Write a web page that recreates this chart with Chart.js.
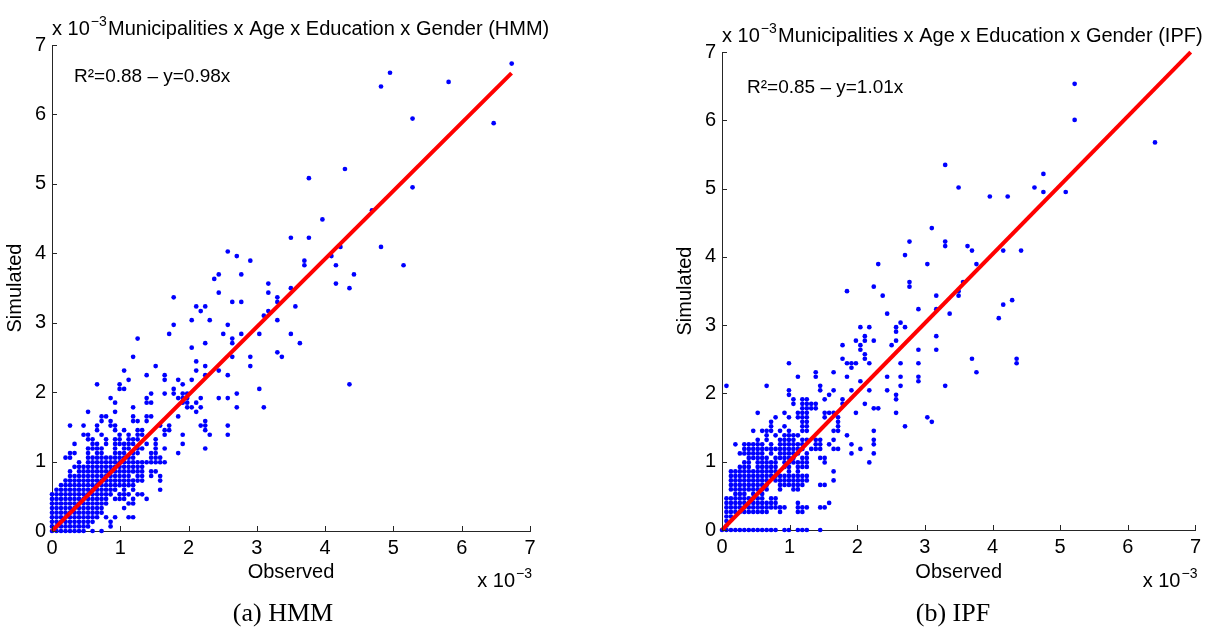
<!DOCTYPE html>
<html>
<head>
<meta charset="utf-8">
<title>Municipalities x Age x Education x Gender</title>
<script src="https://cdn.jsdelivr.net/npm/chart.js@4/dist/chart.umd.min.js"></script>
<style>
  html, body { margin: 0; padding: 0; background: #fff; }
  #page { position: relative; width: 1206px; height: 635px; overflow: hidden; }
  canvas { position: absolute; top: 0; }
  #hmm-chart { left: 0; }
  #ipf-chart { left: 603px; }
  .caption {
    position: absolute; top: 598px; line-height: 26px;
    font: 26px "Liberation Serif", "Times New Roman", serif; color: #000;
    transform: translateX(-50%); white-space: nowrap;
  }
</style>
</head>
<body>
<div id="page">
  <canvas id="hmm-chart" width="603" height="635"></canvas>
  <canvas id="ipf-chart" width="603" height="635"></canvas>
  <div class="caption" style="left:283px">(a) HMM</div>
  <div class="caption" style="left:953px">(b) IPF</div>
</div>
<script>
// both shares are counted in steps of 0.066 (x 10^-3)
const STEP = 0.066;

// [simulated step, [observed steps]] for every cell of the table
const hmmRows = [
  [0, [0,1,2,3,4,5,6,7,9,11]],
  [1, [0,1,2,3,4,5,6,7,8,13]],
  [2, [0,1,2,3,4,5,6,7,8,9,13]],
  [3, [0,1,2,3,4,5,6,7,8,9,10,12,14,17,18]],
  [4, [0,1,2,3,4,5,6,7,8,9,10,11]],
  [5, [0,1,2,3,4,5,6,7,8,9,10,11,16]],
  [6, [0,1,2,3,4,5,6,7,8,9,10,11,12,17,18]],
  [7, [0,1,2,3,4,5,6,7,8,9,10,11,12,14,15,16,18,21]],
  [8, [0,1,2,3,4,5,6,7,8,9,10,11,12,13,15,16,17,19,20]],
  [9, [1,2,3,4,5,6,7,8,9,10,11,12,13,14,16,18,24]],
  [10, [2,3,4,5,6,7,8,9,10,11,12,13,14,15,16,17,18]],
  [11, [3,4,5,6,7,8,9,10,11,12,13,14,15,16,17,18,19,20,24]],
  [12, [4,5,6,7,8,9,10,11,12,13,14,15,16,17,19,20,22,24]],
  [13, [4,6,7,8,9,10,11,12,13,14,15,16,17,18,19,20,22,23]],
  [14, [5,6,7,8,9,10,11,12,13,14,15,16,17,18,19,20]],
  [15, [6,8,9,10,11,12,13,14,15,16,17,18,19,20,21,22,23,24,25]],
  [16, [3,4,8,9,10,11,12,13,14,15,16,17,18,22,23,24]],
  [17, [4,5,8,10,11,14,15,16,18,19,22,23,28]],
  [18, [8,9,10,11,14,16,17,19,20,23,25,34]],
  [19, [5,9,10,12,14,15,16,17,18,21,23,29]],
  [20, [8,9,12,14,15,17,18,19,23]],
  [21, [7,8,11,15,17,19,20,25,29,35,39]],
  [22, [10,14,16,19,20,25,26,34]],
  [23, [4,7,10,13,14,24,26,33,34,39]],
  [24, [11,13,18,19,21,34]],
  [25, [11,12,18,21,22,28]],
  [26, [8,14,32]],
  [27, [18,30,31,33,41,47]],
  [28, [14,21,22,29,30,32]],
  [29, [13,21,28,29,30,33,37,39]],
  [30, [22,25,27,29,30,41]],
  [31, [15,16,27,46]],
  [32, [10,15,29,66]],
  [33, [17,25,28,31]],
  [34, [21,25,34,39]],
  [35, [16,32,37]],
  [36, [23,34,44]],
  [37, [32]],
  [38, [18,40,44,51]],
  [39, [50]],
  [40, [31]],
  [41, [34,40,55]],
  [42, [19,40]],
  [43, [26,38,42,46,53]],
  [45, [27,39]],
  [46, [31,35,50]],
  [47, [47]],
  [48, [33,48]],
  [49, [32,34,54]],
  [50, [40,42,50]],
  [51, [27,50]],
  [52, [37,48]],
  [53, [53,66]],
  [54, [48,63]],
  [55, [36]],
  [56, [37,42,67]],
  [58, [56,63,78]],
  [59, [44,56]],
  [60, [41,62]],
  [61, [39]],
  [62, [64,73]],
  [64, [53,57]],
  [68, [60]],
  [70, [71]],
  [75, [80]],
  [77, [57]],
  [79, [65]],
  [89, [98]],
  [90, [80]],
  [97, [73]],
  [98, [88]],
  [100, [75]],
  [102, [102]]
];

const ipfRows = [
  [0, [0,1,2,3,4,5,6,7,8,9,10,11,12,14,15,17,18,19,22]],
  [1, [1]],
  [2, [1]],
  [3, [1,2]],
  [4, [1,2,3,4,5,6,7,8,9,10,13,17,18]],
  [5, [1,2,3,4,5,6,7,8,9,10,11,12,13,14,17,18,19,22,23]],
  [6, [1,2,3,4,5,6,7,8,9,10,11,12,17,24]],
  [7, [1,2,3,4,5,6,7,8,9,11,12]],
  [8, [3,4,5,7,9]],
  [9, [2,3,4,5,6,7,8,9,10,13,16,17]],
  [10, [2,3,4,5,6,7,8,9,10,13,14,15,16,17,18,22,23]],
  [11, [2,3,4,5,6,7,8,9,10,12,13,14,15,16,17,18,19,25]],
  [12, [2,3,4,5,6,7,8,9,10,11,12,13,14,15,16,17,18,19]],
  [13, [2,3,4,5,6,7,8,9,10,11,12,15,17,25]],
  [14, [4,5,6,8,9,10,11,12,14,15,17,18,19]],
  [15, [5,6,8,9,10,11,12,14,15,16,17,18,19,23,33]],
  [16, [6,7,8,9,10,12,13,14,15,16,18,19,22,23]],
  [17, [4,5,6,7,8,9,11,13,14,15,16,17,19,29,34]],
  [18, [5,6,7,8,9,10,11,12,13,14,15,16,17,18,20,21,22,25,26,31]],
  [19, [3,5,6,7,8,9,11,13,14,15,16,17,18,21,22,24,29,34]],
  [20, [8,10,13,14,15,16,18,19,21,22,25,34]],
  [21, [10,12,14,15,16,17,28]],
  [22, [7,9,10,11,13,15,18,19,25,26,34]],
  [23, [11,14,18,19,26,41]],
  [24, [11,18,19,26,47]],
  [25, [12,15,17,18,19,23,26,46]],
  [26, [8,14,17,18,19,23,24,25,30,39]],
  [27, [18,19,20,21,34,35]],
  [28, [16,18,19,20,21,27,32]],
  [29, [16,18,19,23,27,39]],
  [30, [15,24,39]],
  [31, [15,22,25,29,33,37]],
  [32, [1,10,22,40,50]],
  [33, [31,44]],
  [34, [17,21,28,37,40,44]],
  [35, [21,25,57]],
  [36, [29]],
  [37, [15,28,29,30,33,40,44,66]],
  [38, [27,32,56,66]],
  [39, [32]],
  [40, [31,44,48]],
  [41, [27,31,38]],
  [42, [30,32,34,39]],
  [43, [32,48]],
  [44, [39]],
  [45, [31,33,39,41]],
  [46, [40]],
  [47, [62]],
  [48, [37,51]],
  [49, [44,48]],
  [50, [63]],
  [51, [65]],
  [52, [36,48,53]],
  [53, [28,53]],
  [54, [34,42]],
  [55, [42,54]],
  [59, [35,46,57]],
  [61, [41]],
  [62, [56,63,67]],
  [63, [50,55]],
  [64, [42,50]],
  [67, [47]],
  [74, [60,64]],
  [75, [72,77]],
  [76, [53,70]],
  [79, [72]],
  [81, [50]],
  [86, [97]],
  [91, [79]],
  [99, [79]]
];

// fitted lines y = slope * x
const hmmFit = { r2: '0.88', slope: 0.98, xEnd: 6.73 };
const ipfFit = { r2: '0.85', slope: 1.01, xEnd: 6.93 };

const tickValues = [0, 1, 2, 3, 4, 5, 6, 7];

const FONT = '"Liberation Sans", Arial, Helvetica, sans-serif';
const AXIS_COLOR = '#262626';
const TICK_LEN = 5;

Chart.defaults.font.family = FONT;
Chart.defaults.font.size = 20;
Chart.defaults.color = '#000';

// "x 10^-3" multiplier label
function drawTimesTen(ctx, x, y, align) {
  ctx.font = '20px ' + FONT;
  const baseW = ctx.measureText('x 10').width;
  ctx.font = '14px ' + FONT;
  const supW = ctx.measureText('\u22123').width;
  const x0 = align === 'right' ? x - baseW - supW - 1 : x;
  ctx.textAlign = 'left';
  ctx.textBaseline = 'alphabetic';
  ctx.font = '20px ' + FONT;
  ctx.fillText('x 10', x0, y);
  ctx.font = '14px ' + FONT;
  ctx.fillText('\u22123', x0 + baseW + 1, y - 9);
}

const panelText = {
  id: 'panelText',
  afterDraw(chart, args, opts) {
    const { ctx, chartArea: a, scales: { x, y } } = chart;
    ctx.save();

    // matlab style ticks pointing into the plot
    ctx.strokeStyle = AXIS_COLOR;
    ctx.lineWidth = 1;
    ctx.beginPath();
    x.ticks.forEach(t => {
      const px = Math.round(x.getPixelForValue(t.value)) + 0.5;
      ctx.moveTo(px, a.bottom);
      ctx.lineTo(px, a.bottom - TICK_LEN);
    });
    y.ticks.forEach(t => {
      const py = Math.round(y.getPixelForValue(t.value)) + 0.5;
      ctx.moveTo(a.left, py);
      ctx.lineTo(a.left + TICK_LEN, py);
    });
    ctx.stroke();

    ctx.fillStyle = '#000';
    drawTimesTen(ctx, a.left, a.top - 10, 'left');
    ctx.font = '20px ' + FONT;
    ctx.fillText(opts.title, a.left + 56, a.top - 10);

    ctx.font = '19px ' + FONT;
    ctx.fillText('R\u00b2=' + opts.fit.r2 + ' \u2013 y=' + opts.fit.slope + 'x', a.left + opts.noteX, a.top + opts.noteY);

    drawTimesTen(ctx, a.right + 2, 587, 'right');
    ctx.restore();
  }
};

const panels = [
  {
    id: 'hmm-chart', rows: hmmRows, fit: hmmFit,
    title: 'Municipalities x Age x Education x Gender (HMM)',
    padding: { left: 0, right: 73, top: 45, bottom: 0 }, xHeight: 104,
    noteX: 22, noteY: 37
  },
  {
    id: 'ipf-chart', rows: ipfRows, fit: ipfFit,
    title: 'Municipalities x Age x Education x Gender (IPF)',
    padding: { left: 67, right: 6, top: 52, bottom: 0 }, xHeight: 105,
    noteX: 25, noteY: 41
  }
];

panels.forEach(p => {
  const points = p.rows.flatMap(([sim, obs]) => obs.map(o => ({ x: o * STEP, y: sim * STEP })));
  const fitLine = [{ x: 0, y: 0 }, { x: p.fit.xEnd, y: p.fit.slope * p.fit.xEnd }];

  new Chart(document.getElementById(p.id), {
    type: 'scatter',
    data: {
      datasets: [
        {
          data: fitLine, showLine: true, borderColor: '#ff0000', borderWidth: 4,
          pointRadius: 0, order: 0, clip: false
        },
        {
          data: points, backgroundColor: '#0000ff', pointRadius: 2.35,
          pointBorderWidth: 0, order: 1, clip: false
        }
      ]
    },
    options: {
      responsive: false,
      animation: false,
      devicePixelRatio: 1,
      events: [],
      layout: { padding: p.padding },
      plugins: {
        legend: { display: false },
        tooltip: { enabled: false },
        panelText: { title: p.title, fit: p.fit, noteX: p.noteX, noteY: p.noteY }
      },
      scales: {
        x: {
          type: 'linear', min: 0, max: 7,
          afterBuildTicks: s => { s.ticks = tickValues.map(v => ({ value: v })); },
          afterFit: s => { s.height = p.xHeight; },
          grid: { drawOnChartArea: false, drawTicks: false },
          border: { color: AXIS_COLOR, width: 1 },
          ticks: { padding: 5, color: '#000' },
          title: { display: true, text: 'Observed', color: '#000', padding: { top: 0, bottom: 51 } }
        },
        y: {
          type: 'linear', min: 0, max: 7,
          afterBuildTicks: s => { s.ticks = tickValues.map(v => ({ value: v })); },
          afterFit: s => { s.width = 52; },
          grid: { drawOnChartArea: false, drawTicks: false },
          border: { color: AXIS_COLOR, width: 1 },
          ticks: { padding: 6, color: '#000' },
          title: { display: true, text: 'Simulated', color: '#000', padding: { top: 3, bottom: 0 } }
        }
      }
    },
    plugins: [panelText]
  });
});
</script>
</body>
</html>
